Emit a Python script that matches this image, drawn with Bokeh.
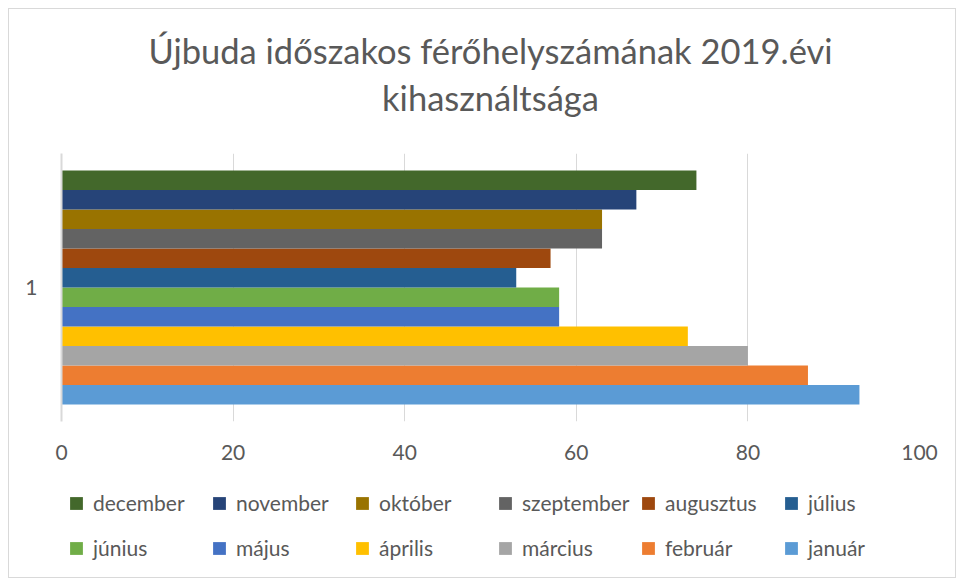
from bokeh.plotting import figure
from bokeh.layouts import column
from bokeh.models import Range1d, FixedTicker, Legend, LegendItem, ColumnDataSource
from bokeh.core.properties import value
from bokeh.embed import file_html
from bokeh.resources import INLINE

# data
months = ["január", "február", "március", "április", "május", "június",
          "július", "augusztus", "szeptember", "október", "november", "december"]
values = [93, 87, 80, 73, 58, 58, 53, 57, 63, 63, 67, 74]
colors = ["#5B9BD5", "#ED7D31", "#A5A5A5", "#FFC000", "#4472C4", "#70AD47",
          "#255E91", "#9E480E", "#636363", "#997300", "#264478", "#43682B"]
category = "1"
x_ticks = [0, 20, 40, 60, 80, 100]
title_lines = ["Újbuda időszakos férőhelyszámának 2019.évi", "kihasználtsága"]

FONT = "Lato"
GRAY = "#595959"
W = 946
FW = 858     # plot frame width (shared by the column's bands)
TH = 144     # title band height
MH = 328     # chart band height
LH = 96      # legend band height


def bare(fig):
    fig.outline_line_color = None
    fig.border_fill_color = "white"
    fig.background_fill_color = "white"
    fig.grid.grid_line_color = None


# ---- title band ----
tf = figure(width=W, height=TH, output_backend="svg", toolbar_location=None,
            x_range=Range1d(0, FW), y_range=Range1d(TH, 0),
            x_axis_location=None, y_axis_location=None,
            min_border_left=52, min_border_right=36, min_border_top=0,
            min_border_bottom=0)
bare(tf)
line_centers = [41, 88]
tf.text(x=[FW / 2] * 2, y=line_centers, text=title_lines,
        text_font=value(FONT), text_font_size="34.5px", text_color=GRAY,
        text_align="center", text_baseline="middle")

# ---- chart band ----
p = figure(width=W, height=MH, output_backend="svg", toolbar_location=None,
           x_range=Range1d(0, 100), y_range=Range1d(0, 1),
           min_border_left=52, min_border_right=36, min_border_top=0,
           min_border_bottom=60)
p.outline_line_color = None
p.border_fill_color = "white"
p.background_fill_color = "white"

n = len(months)
cluster = 0.873
bh = cluster / n
for i, (m, v, c) in enumerate(zip(months, values, colors)):
    yc = 0.5 - cluster / 2 + (i + 0.5) * bh
    src = ColumnDataSource(dict(y=[yc], right=[v]))
    p.hbar(y="y", right="right", left=0, height=bh, source=src,
           fill_color=c, line_color=None)

p.xaxis.ticker = FixedTicker(ticks=x_ticks)
p.xaxis.axis_line_color = None
p.xaxis.major_tick_line_color = None
p.xaxis.major_tick_out = 0
p.xaxis.minor_tick_line_color = None
p.xaxis.minor_tick_out = 0
p.xaxis.major_label_text_font = FONT
p.xaxis.major_label_text_font_size = "21px"
p.xaxis.major_label_text_color = GRAY
p.xaxis.major_label_standoff = 23

p.yaxis.ticker = FixedTicker(ticks=[0.5])
p.yaxis.major_label_overrides = {0.5: category}
p.yaxis.axis_line_color = "#D9D9D9"
p.yaxis.axis_line_width = 2
p.yaxis.major_tick_line_color = None
p.yaxis.major_tick_out = 0
p.yaxis.minor_tick_line_color = None
p.yaxis.minor_tick_out = 0
p.yaxis.major_label_text_font = FONT
p.yaxis.major_label_text_font_size = "21px"
p.yaxis.major_label_text_color = GRAY
p.yaxis.major_label_standoff = 24

p.xgrid.grid_line_color = "#D9D9D9"
p.xgrid.grid_line_width = 1
p.ygrid.grid_line_color = None

# ---- legend band ----
lf = figure(width=W, height=LH, output_backend="svg", toolbar_location=None,
            x_range=Range1d(0, 1), y_range=Range1d(0, 1),
            x_axis_location=None, y_axis_location=None,
            min_border_left=52, min_border_right=36, min_border_top=0,
            min_border_bottom=0)
bare(lf)

leg_r = {}
for m, c in zip(months, colors):
    # proxy renderer far outside the visible range, only used for the legend
    leg_r[m] = lf.hbar(y=[-1000], right=[-999], left=-1000, height=1,
                       fill_color=c, line_color=None)

legend_order = list(reversed(months))
rows = [legend_order[:6], legend_order[6:]]
PAD = 7
ROW_H = 24
row_centers = [15, 60]
for k, row in enumerate(rows):
    items = [LegendItem(label=m, renderers=[leg_r[m]]) for m in row]
    lg = Legend(items=items, orientation="horizontal",
                location=(7, LH - (row_centers[k] + ROW_H // 2 + PAD)),
                label_text_font=FONT, label_text_font_size="21px",
                label_text_color=GRAY, glyph_width=16, glyph_height=16,
                label_standoff=9, label_width=118, label_height=ROW_H,
                spacing=0, border_line_color=None, background_fill_alpha=0,
                margin=0, padding=PAD)
    lf.add_layout(lg)

layout = column(tf, p, lf, spacing=0,
                styles={"border": "1px solid #D9D9D9", "margin-left": "8px",
                        "margin-top": "8px"})

open("out.html", "w").write(file_html(layout, INLINE))
